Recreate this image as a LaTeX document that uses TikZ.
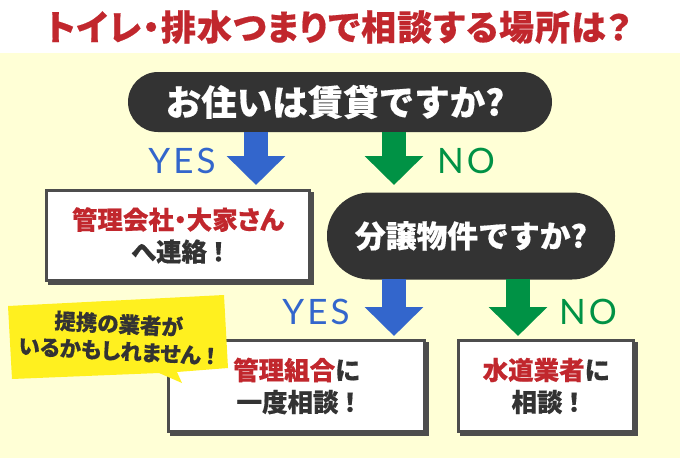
\documentclass[tikz,border=0pt]{standalone}
\usepackage{fontspec}
\usetikzlibrary{arrows.meta,positioning}
\setmainfont{Noto Sans CJK JP}[BoldFeatures={RawFeature=+palt,FakeBold=0.4}]
\newfontfamily\plainjp{Noto Sans CJK JP}[BoldFeatures={FakeBold=0.4}]
\newfontfamily\titlejp{Noto Sans CJK JP}[BoldFeatures={RawFeature=+palt,FakeBold=0.5,LetterSpace=3}]
\newfontfamily\latinf{Lato}[LetterSpace=9]
\definecolor{bgy}{HTML}{FFFFD6}
\definecolor{dark}{HTML}{333333}
\definecolor{redt}{HTML}{C1272D}
\definecolor{bluea}{HTML}{3366CC}
\definecolor{greena}{HTML}{009245}
\definecolor{boxb}{HTML}{4D4D4D}
\definecolor{yel}{HTML}{FFF01F}
\newcommand{\bang}{\hspace{0.2em}！\hspace{-0.2em}}
\tikzset{
 pill/.style={fill=dark,text=white,inner sep=0pt,anchor=center},
 answerbox/.style={draw=boxb,line width=3pt,fill=white,inner sep=0pt,align=center,font=\bfseries\fontsize{25.5}{32}\selectfont,text=dark,
   preaction={draw=boxb,fill=boxb,line width=3pt,transform canvas={xshift=3pt,yshift=-3pt}}},
 bluearrow/.style={bluea,line width=24pt,-{Triangle[width=57pt,length=29pt]}},
 greenarrow/.style={greena,line width=24pt,-{Triangle[width=57pt,length=29pt]}},
 yn/.style={font=\latinf\fontsize{35}{35}\selectfont,inner sep=0pt},
}
\begin{document}
\begin{tikzpicture}[x=1pt,y=-1pt]
\useasboundingbox (0,0) rectangle (680,458);
\fill[white] (0,0) rectangle (680,458);
\fill[bgy] (0,53) rectangle (680,458);
\node[text=redt,font=\titlejp\bfseries\fontsize{35}{35}\selectfont,inner sep=0pt] (title) at (338.5,27) {トイレ・排水つまりで相談する場所は？};
\node[pill,rounded corners=30pt,minimum width=424pt,minimum height=60pt] (q1) at (340,102) {};
\node[text=white,inner sep=0pt,font=\plainjp\bfseries\fontsize{35.5}{35.5}\selectfont] (q1t) at (q1.center) [xshift=-5pt] {お住いは賃貸ですか?};
\node[pill,rounded corners=43pt,minimum width=288pt,minimum height=87pt,font=\plainjp\bfseries\fontsize{30.8}{30.8}\selectfont] (q2) at (471,236) {分譲物件ですか?};
\node[answerbox,minimum width=263pt,minimum height=90pt] (a1) at (178,235.5) {\textcolor{redt}{管理会社・大家さん}\\へ連絡\bang};
\node[answerbox,minimum width=256pt,minimum height=91pt] (a2) at (296.5,386) {\textcolor{redt}{管理組合}に\\一度相談\bang};
\node[answerbox,minimum width=175pt,minimum height=91pt] (a3) at (546,386) {\textcolor{redt}{水道業者}に\\相談\bang};
\coordinate (t1) at (256,132); \coordinate (h1) at (256,185);
\coordinate (t2) at (394,132); \coordinate (h2) at (394,185);
\coordinate (t3) at (394,279); \coordinate (h3) at (394,336);
\coordinate (t4) at (518,279); \coordinate (h4) at (518,336);
\draw[bluearrow] (t1) -- (h1);
\draw[greenarrow] (t2) -- (h2);
\draw[bluearrow] (t3) -- (h3);
\draw[greenarrow] (t4) -- (h4);
\node[yn,text=bluea] (y1) at (182,161) {YES};
\node[yn,text=greena] (n1) at (466,161) {NO};
\node[yn,text=bluea] (y2) at (316,312) {YES};
\node[yn,text=greena] (n2) at (588,312) {NO};
\fill[yel] (8,306) -- (224,295) -- (228,368) -- (177,372) -- (182,383) -- (159,373) -- (12,379) -- cycle;
\node[text=dark,align=center,inner sep=0pt,font=\bfseries\fontsize{21.5}{27}\selectfont,rotate=-3] (note) at (118,337) {提携の業者が\\いるかもしれません\bang};
\end{tikzpicture}
\end{document}
